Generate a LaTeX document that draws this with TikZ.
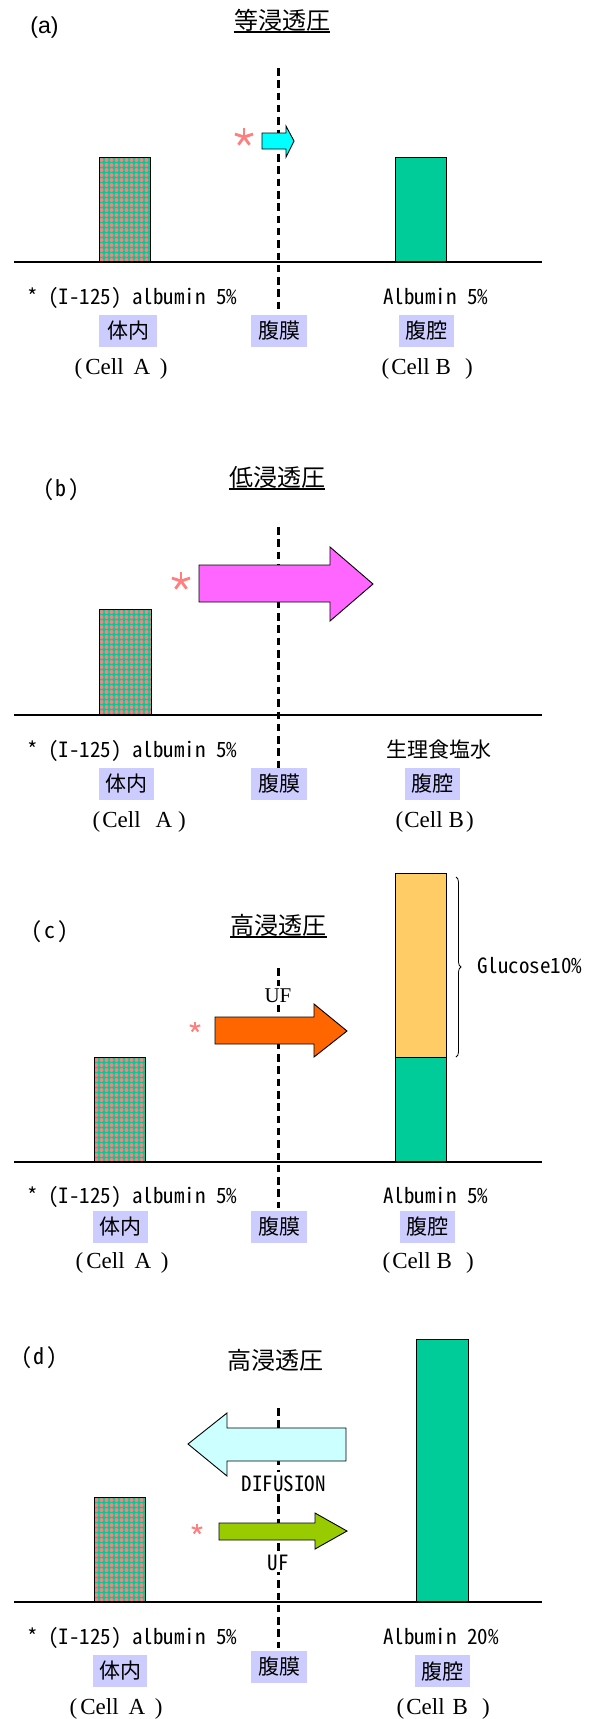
\documentclass[tikz,border=0pt]{standalone}
\usepackage{fontspec}
\setmainfont{Liberation Serif}
\newfontfamily\cjk{Noto Sans CJK JP}
\newfontfamily\halfw[RawFeature=+hwid]{Noto Sans CJK JP}
\newfontfamily\arialf{Liberation Sans}
\usetikzlibrary{decorations.pathreplacing}

\definecolor{albgreen}{HTML}{00CC99}
\definecolor{dotpink}{HTML}{FF7F7F}
\definecolor{glucose}{HTML}{FFCC66}
\definecolor{tagblue}{HTML}{CCCCFF}
\definecolor{aquaflow}{HTML}{00FFFF}
\definecolor{pinkflow}{HTML}{FF66FF}
\definecolor{ufflow}{HTML}{FF6600}
\definecolor{difflow}{HTML}{CCFFFF}
\definecolor{greenflow}{HTML}{99CC00}
\definecolor{starpink}{HTML}{FF7F7F}

% "(Cell X)" with adjustable gaps
\newcommand\celltag[4]{(\hspace{#1pt}Cell\hspace{#2pt}#4\hspace{#3pt})}
% panel letter "( x )"
\newcommand\panelno[1]{(\hspace{2pt}#1\hspace{2pt})}

% labelled (I-125) albumin column: green with a grid of pink dots
\newcommand\dotbar[4]{%
  \fill[albgreen] (#1,#2) rectangle (#3,#4);
  \begin{scope}
    \clip (#1,#2) rectangle (#3,#4);
    \foreach \i in {0,...,11}{\foreach \j in {0,...,22}{%
      \fill[dotpink] ({#1+2.5+5*\i},{#2+3+5*\j}) circle (2pt);}}
  \end{scope}
  \draw[line width=1pt] (#1,#2) rectangle (#3,#4);}

% five-spoke asterisk
\newcommand\starmark[4]{%
  \foreach \a in {-90,-18,54,126,198}{%
    \draw[starpink, line width=#4pt] (#1,#2) -- ++(\a:#3);}}

\tikzset{
  membrane/.style={line width=3pt, dash pattern=on 7.5pt off 4.8pt},
  ground/.style={line width=2.2pt},
  flow/.style={draw=black, line width=0.9pt, line join=miter},
  tag/.style={fill=tagblue, font=\cjk\fontsize{21}{21}\selectfont, inner sep=0pt,
    minimum height=32pt},
  mono/.style={font=\halfw\fontsize{21}{21}\selectfont, inner sep=0pt},
  panel/.style={font=\halfw\fontsize{22}{22}\selectfont, inner sep=0pt},
  cjkmono/.style={font=\cjk\fontsize{21}{21}\selectfont, inner sep=0pt},
  title/.style={font=\cjk\fontsize{24}{24}\selectfont, inner sep=0pt},
  cellt/.style={font=\fontsize{23}{23}\selectfont, inner sep=0pt, anchor=base west},
}

\begin{document}
\begin{tikzpicture}[x=1pt, y=-1pt]
\fill[white] (0,0) rectangle (596,1719);
\useasboundingbox (0,0) rectangle (596,1719);

% ---------------- (a) iso-osmotic ----------------
\node[font=\arialf\fontsize{23}{23}\selectfont, inner sep=0pt] (pa) at (44.5,28) {(a)};
\node[title] (ta) at (282,20) {等浸透圧};
\draw[line width=1.2pt] (ta.south west |- 0,32) -- (ta.south east |- 0,32);
\draw[membrane] (278,68) -- (278,310);
\dotbar{99}{157}{150}{262}
\draw[line width=1pt, fill=albgreen] (395,157) rectangle (446,262);
\draw[ground] (14,262) -- (542,262);
\draw[flow, fill=aquaflow] (262,133) -- (286,133) -- (286,126) -- (294,141)
  -- (286,157) -- (286,149) -- (262,149) -- cycle;
\starmark{244}{137}{9.5}{2.8}
\node[mono, anchor=base west] (la) at (27,304) {* (I-125) albumin 5\%};
\node[mono, anchor=base west] (ra) at (383,304) {Albumin 5\%};
\node[tag, minimum width=58pt] (bodya) at (128,331) {体内};
\node[tag, minimum width=56pt] (mema) at (279,331) {腹膜};
\node[tag, minimum width=55pt] (cava) at (426.5,331) {腹腔};
\node[cellt] (ca) at (74.5,374) {\celltag{3}{10}{9.5}{A}};
\node[cellt] (cb) at (381.5,374) {\celltag{2}{6}{14}{B}};

% ---------------- (b) hypo-osmotic ----------------
\node[panel] (pb) at (61.5,490) {\panelno{b}};
\node[title] (tb) at (277,477) {低浸透圧};
\draw[line width=1.2pt] (tb.south west |- 0,489) -- (tb.south east |- 0,489);
\draw[membrane] (278,527) -- (278,768);
\dotbar{99}{609}{151}{715}
\draw[ground] (14,715) -- (542,715);
\draw[flow, fill=pinkflow] (199,565) -- (330,565) -- (330,547) -- (373,584)
  -- (330,621) -- (330,602) -- (199,602) -- cycle;
\starmark{181}{581}{9.5}{2.8}
\node[mono, anchor=base west] (lb) at (27,757) {* (I-125) albumin 5\%};
\node[cjkmono, anchor=base west] (rb) at (386,757) {生理食塩水};
\node[tag, minimum width=55pt] (bodyb) at (126.5,784) {体内};
\node[tag, minimum width=56pt] (memb) at (279,784) {腹膜};
\node[tag, minimum width=55pt] (cavb) at (432.5,784) {腹腔};
\node[cellt] (cc) at (92.5,827) {\celltag{2}{15}{5.8}{A}};
\node[cellt] (cd) at (395.5,827) {\celltag{1}{6}{2}{B}};

% ---------------- (c) hyper-osmotic, ultrafiltration ----------------
\node[panel] (pc) at (50,932) {\panelno{c}};
\node[title] (tc) at (278.5,925) {高浸透圧};
\draw[line width=1.2pt] (tc.south west |- 0,937) -- (tc.south east |- 0,937);
\draw[membrane] (278,968) -- (278,1208);
\dotbar{94}{1057}{145}{1162}
\draw[line width=1pt, fill=glucose] (395,873) rectangle (446,1057);
\draw[line width=1pt, fill=albgreen] (395,1057) rectangle (446,1162);
\draw[ground] (14,1162) -- (542,1162);
\coordinate (gtop) at (456,877);
\coordinate (gbot) at (456,1057);
\draw[line width=0.8pt, decorate, decoration={brace, amplitude=5pt}] (gtop) -- (gbot);
\node[mono, anchor=base west] (gl) at (477,973) {Glucose10\%};
\node[font=\fontsize{21}{21}\selectfont, fill=white, inner sep=2pt, anchor=base] (ufc) at (278,1002) {UF};
\draw[flow, fill=ufflow] (215,1017) -- (314,1017) -- (314,1004) -- (347,1031)
  -- (314,1057) -- (314,1044) -- (215,1044) -- cycle;
\starmark{195}{1027}{5.5}{2}
\node[mono, anchor=base west] (lc) at (27,1203) {* (I-125) albumin 5\%};
\node[mono, anchor=base west] (rc) at (383,1203) {Albumin 5\%};
\node[tag, minimum width=55pt] (bodyc) at (120.5,1226.5) {体内};
\node[tag, minimum width=56pt] (memc) at (279,1226.5) {腹膜};
\node[tag, minimum width=55pt] (cavc) at (427,1226.5) {腹腔};
\node[cellt] (ce) at (75.5,1268) {\celltag{3}{10}{9.5}{A}};
\node[cellt] (cf) at (382.5,1268) {\celltag{2}{6}{14}{B}};

% ---------------- (d) hyper-osmotic, diffusion and ultrafiltration ----------------
\node[panel] (pd) at (39.5,1358) {\panelno{d}};
\node[title] (td) at (275.5,1360) {高浸透圧};
\draw[membrane] (278,1408) -- (278,1648);
\dotbar{94}{1497}{145}{1602}
\draw[line width=1pt, fill=albgreen] (416,1339) rectangle (468,1602);
\draw[ground] (14,1602) -- (542,1602);
\draw[flow, fill=difflow] (346,1428) -- (227,1428) -- (227,1413) -- (188,1444)
  -- (227,1476) -- (227,1461) -- (346,1461) -- cycle;
\node[mono, fill=white, inner sep=3pt, anchor=base] (dif) at (283.5,1491) {DIFUSION};
\draw[flow, fill=greenflow] (219,1523) -- (315,1523) -- (315,1513) -- (347,1531)
  -- (315,1549) -- (315,1540) -- (219,1540) -- cycle;
\starmark{197}{1529}{5.5}{2}
\node[mono, fill=white, inner sep=2pt, anchor=base] (ufd) at (278,1570) {UF};
\node[mono, anchor=base west] (ld) at (27,1644) {* (I-125) albumin 5\%};
\node[mono, anchor=base west] (rd) at (383,1644) {Albumin 20\%};
\node[tag, minimum width=54pt] (bodyd) at (120,1671) {体内};
\node[tag, minimum width=56pt] (memd) at (279,1666.5) {腹膜};
\node[tag, minimum width=55pt] (cavd) at (442.5,1671) {腹腔};
\node[cellt] (cg) at (69.5,1714) {\celltag{3}{10}{9.5}{A}};
\node[cellt] (ch) at (396.5,1714) {\celltag{2}{8}{14}{B}};
\end{tikzpicture}
\end{document}
